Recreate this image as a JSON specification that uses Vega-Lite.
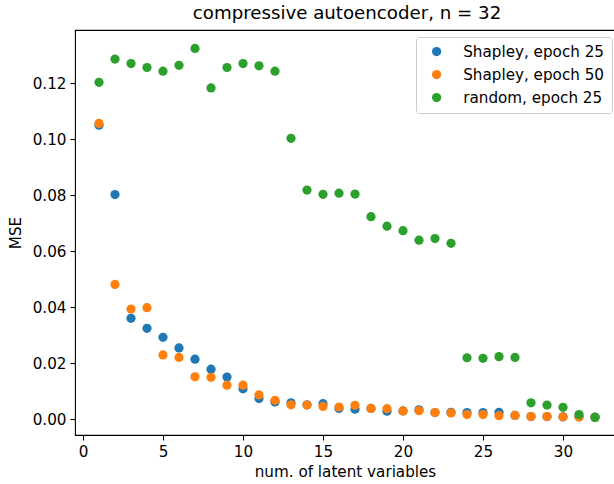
{
  "$schema": "https://vega.github.io/schema/vega-lite/v6.json",
  "autosize": {"type": "none"},
  "padding": {"left": 75, "top": 30, "right": 0, "bottom": 49},
  "width": 540,
  "height": 405,
  "title": {"text": "compressive autoencoder, n = 32", "fontSize": 18.2, "fontWeight": "normal", "font": "DejaVu Sans", "color": "#000", "anchor": "middle", "baseline": "alphabetic", "offset": 8, "dx": 2, "dy": 15},
  "config": {
    "font": "DejaVu Sans",
    "view": {"stroke": "#000", "strokeWidth": 1.1},
    "axis": {"grid": false, "domain": false, "tickColor": "#000", "tickWidth": 1.1, "tickSize": 5, "labelPadding": 4, "labelFontSize": 15.2, "labelColor": "#000", "titleFontSize": 15.2, "titleFontWeight": "normal", "titleColor": "#000", "labelFont": "DejaVu Sans", "titleFont": "DejaVu Sans"}
  },
  "data": {"values": [
    {"x": 1, "mse": 0.1051, "series": "Shapley, epoch 25"},
    {"x": 2, "mse": 0.0803, "series": "Shapley, epoch 25"},
    {"x": 3, "mse": 0.0361, "series": "Shapley, epoch 25"},
    {"x": 4, "mse": 0.0325, "series": "Shapley, epoch 25"},
    {"x": 5, "mse": 0.0293, "series": "Shapley, epoch 25"},
    {"x": 6, "mse": 0.0255, "series": "Shapley, epoch 25"},
    {"x": 7, "mse": 0.0215, "series": "Shapley, epoch 25"},
    {"x": 8, "mse": 0.0179, "series": "Shapley, epoch 25"},
    {"x": 9, "mse": 0.0151, "series": "Shapley, epoch 25"},
    {"x": 10, "mse": 0.0109, "series": "Shapley, epoch 25"},
    {"x": 11, "mse": 0.0074, "series": "Shapley, epoch 25"},
    {"x": 12, "mse": 0.0062, "series": "Shapley, epoch 25"},
    {"x": 13, "mse": 0.0059, "series": "Shapley, epoch 25"},
    {"x": 14, "mse": 0.0052, "series": "Shapley, epoch 25"},
    {"x": 15, "mse": 0.0056, "series": "Shapley, epoch 25"},
    {"x": 16, "mse": 0.0039, "series": "Shapley, epoch 25"},
    {"x": 17, "mse": 0.0036, "series": "Shapley, epoch 25"},
    {"x": 18, "mse": 0.0039, "series": "Shapley, epoch 25"},
    {"x": 19, "mse": 0.0029, "series": "Shapley, epoch 25"},
    {"x": 20, "mse": 0.0030, "series": "Shapley, epoch 25"},
    {"x": 21, "mse": 0.0034, "series": "Shapley, epoch 25"},
    {"x": 22, "mse": 0.0024, "series": "Shapley, epoch 25"},
    {"x": 23, "mse": 0.0025, "series": "Shapley, epoch 25"},
    {"x": 24, "mse": 0.0024, "series": "Shapley, epoch 25"},
    {"x": 25, "mse": 0.0024, "series": "Shapley, epoch 25"},
    {"x": 26, "mse": 0.0025, "series": "Shapley, epoch 25"},
    {"x": 27, "mse": 0.0014, "series": "Shapley, epoch 25"},
    {"x": 28, "mse": 0.0010, "series": "Shapley, epoch 25"},
    {"x": 29, "mse": 0.0010, "series": "Shapley, epoch 25"},
    {"x": 30, "mse": 0.0009, "series": "Shapley, epoch 25"},
    {"x": 31, "mse": 0.0010, "series": "Shapley, epoch 25"},
    {"x": 32, "mse": 0.0008, "series": "Shapley, epoch 25"},
    {"x": 1, "mse": 0.1057, "series": "Shapley, epoch 50"},
    {"x": 2, "mse": 0.0482, "series": "Shapley, epoch 50"},
    {"x": 3, "mse": 0.0394, "series": "Shapley, epoch 50"},
    {"x": 4, "mse": 0.0399, "series": "Shapley, epoch 50"},
    {"x": 5, "mse": 0.0230, "series": "Shapley, epoch 50"},
    {"x": 6, "mse": 0.0221, "series": "Shapley, epoch 50"},
    {"x": 7, "mse": 0.0152, "series": "Shapley, epoch 50"},
    {"x": 8, "mse": 0.0150, "series": "Shapley, epoch 50"},
    {"x": 9, "mse": 0.0122, "series": "Shapley, epoch 50"},
    {"x": 10, "mse": 0.0122, "series": "Shapley, epoch 50"},
    {"x": 11, "mse": 0.0087, "series": "Shapley, epoch 50"},
    {"x": 12, "mse": 0.0068, "series": "Shapley, epoch 50"},
    {"x": 13, "mse": 0.0052, "series": "Shapley, epoch 50"},
    {"x": 14, "mse": 0.0051, "series": "Shapley, epoch 50"},
    {"x": 15, "mse": 0.0046, "series": "Shapley, epoch 50"},
    {"x": 16, "mse": 0.0044, "series": "Shapley, epoch 50"},
    {"x": 17, "mse": 0.0050, "series": "Shapley, epoch 50"},
    {"x": 18, "mse": 0.0039, "series": "Shapley, epoch 50"},
    {"x": 19, "mse": 0.0038, "series": "Shapley, epoch 50"},
    {"x": 20, "mse": 0.0030, "series": "Shapley, epoch 50"},
    {"x": 21, "mse": 0.0031, "series": "Shapley, epoch 50"},
    {"x": 22, "mse": 0.0024, "series": "Shapley, epoch 50"},
    {"x": 23, "mse": 0.0023, "series": "Shapley, epoch 50"},
    {"x": 24, "mse": 0.0017, "series": "Shapley, epoch 50"},
    {"x": 25, "mse": 0.0017, "series": "Shapley, epoch 50"},
    {"x": 26, "mse": 0.0013, "series": "Shapley, epoch 50"},
    {"x": 27, "mse": 0.0014, "series": "Shapley, epoch 50"},
    {"x": 28, "mse": 0.0010, "series": "Shapley, epoch 50"},
    {"x": 29, "mse": 0.0010, "series": "Shapley, epoch 50"},
    {"x": 30, "mse": 0.0009, "series": "Shapley, epoch 50"},
    {"x": 31, "mse": 0.0008, "series": "Shapley, epoch 50"},
    {"x": 32, "mse": 0.0007, "series": "Shapley, epoch 50"},
    {"x": 1, "mse": 0.1204, "series": "random, epoch 25"},
    {"x": 2, "mse": 0.1287, "series": "random, epoch 25"},
    {"x": 3, "mse": 0.1271, "series": "random, epoch 25"},
    {"x": 4, "mse": 0.1257, "series": "random, epoch 25"},
    {"x": 5, "mse": 0.1244, "series": "random, epoch 25"},
    {"x": 6, "mse": 0.1265, "series": "random, epoch 25"},
    {"x": 7, "mse": 0.1325, "series": "random, epoch 25"},
    {"x": 8, "mse": 0.1184, "series": "random, epoch 25"},
    {"x": 9, "mse": 0.1257, "series": "random, epoch 25"},
    {"x": 10, "mse": 0.1271, "series": "random, epoch 25"},
    {"x": 11, "mse": 0.1263, "series": "random, epoch 25"},
    {"x": 12, "mse": 0.1244, "series": "random, epoch 25"},
    {"x": 13, "mse": 0.1004, "series": "random, epoch 25"},
    {"x": 14, "mse": 0.0819, "series": "random, epoch 25"},
    {"x": 15, "mse": 0.0804, "series": "random, epoch 25"},
    {"x": 16, "mse": 0.0808, "series": "random, epoch 25"},
    {"x": 17, "mse": 0.0805, "series": "random, epoch 25"},
    {"x": 18, "mse": 0.0724, "series": "random, epoch 25"},
    {"x": 19, "mse": 0.0690, "series": "random, epoch 25"},
    {"x": 20, "mse": 0.0674, "series": "random, epoch 25"},
    {"x": 21, "mse": 0.0640, "series": "random, epoch 25"},
    {"x": 22, "mse": 0.0646, "series": "random, epoch 25"},
    {"x": 23, "mse": 0.0629, "series": "random, epoch 25"},
    {"x": 24, "mse": 0.0220, "series": "random, epoch 25"},
    {"x": 25, "mse": 0.0218, "series": "random, epoch 25"},
    {"x": 26, "mse": 0.0224, "series": "random, epoch 25"},
    {"x": 27, "mse": 0.0221, "series": "random, epoch 25"},
    {"x": 28, "mse": 0.0059, "series": "random, epoch 25"},
    {"x": 29, "mse": 0.0051, "series": "random, epoch 25"},
    {"x": 30, "mse": 0.0043, "series": "random, epoch 25"},
    {"x": 31, "mse": 0.0017, "series": "random, epoch 25"},
    {"x": 32, "mse": 0.0007, "series": "random, epoch 25"}
  ]},
  "mark": {"type": "point", "filled": true, "opacity": 1, "size": 85, "shape": "circle"},
  "encoding": {
    "x": {"field": "x", "type": "quantitative", "scale": {"domain": [-0.5, 33.25], "nice": false, "zero": false},
      "axis": {"values": [0, 5, 10, 15, 20, 25, 30], "title": "num. of latent variables", "titlePadding": 5}},
    "y": {"field": "mse", "type": "quantitative", "scale": {"domain": [-0.0056, 0.1391], "nice": false, "zero": false},
      "axis": {"values": [0, 0.02, 0.04, 0.06, 0.08, 0.1, 0.12], "format": ".2f", "title": "MSE", "titlePadding": 9}},
    "color": {"field": "series", "type": "nominal",
      "scale": {"domain": ["Shapley, epoch 25", "Shapley, epoch 50", "random, epoch 25"], "range": ["#1f77b4", "#ff7f0e", "#2ca02c"]},
      "legend": {"title": null, "orient": "none", "legendX": 341, "legendY": 7, "padding": 7, "symbolOffset": 6, "labelOffset": 19, "rowPadding": 7, "symbolSize": 85, "symbolType": "circle", "labelFontSize": 15.2, "labelColor": "#000", "labelFont": "DejaVu Sans", "strokeColor": "#cccccc", "fillColor": "rgba(255,255,255,0.8)", "cornerRadius": 3}
    }
  }
}
